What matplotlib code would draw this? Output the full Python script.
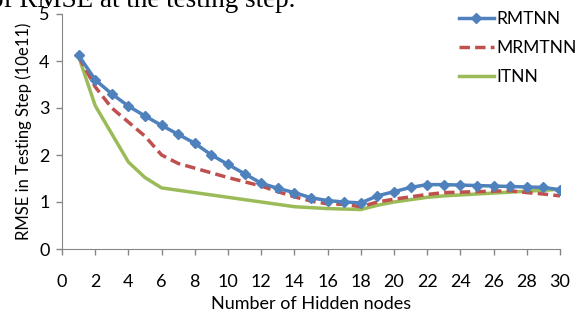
import numpy as np
import matplotlib
matplotlib.use("Agg")
import matplotlib.pyplot as plt

# hidden nodes 1..30
nodes = list(range(1, 31))
rmtnn = [4.12, 3.6, 3.3, 3.04, 2.83, 2.63, 2.44, 2.25, 2.0, 1.8,
         1.6, 1.4, 1.29, 1.2, 1.09, 1.03, 1.0, 0.98, 1.13, 1.22,
         1.31, 1.37, 1.37, 1.36, 1.35, 1.34, 1.33, 1.32, 1.31, 1.26]
mrmtnn = [4.1, 3.45, 3.0, 2.7, 2.4, 2.0, 1.82, 1.72, 1.62, 1.52,
          1.43, 1.34, 1.22, 1.11, 1.02, 0.96, 0.95, 0.9, 1.0, 1.06,
          1.11, 1.16, 1.2, 1.21, 1.22, 1.23, 1.24, 1.2, 1.17, 1.13]
itnn = [4.1, 3.05, 2.45, 1.85, 1.52, 1.3, 1.25, 1.2, 1.15, 1.1,
        1.05, 1.0, 0.95, 0.9, 0.88, 0.86, 0.85, 0.84, 0.93, 1.0,
        1.05, 1.1, 1.13, 1.15, 1.17, 1.19, 1.21, 1.23, 1.25, 1.27]
xticks = list(range(0, 31, 2))
yticks = [0, 1, 2, 3, 4, 5]

plt.rcParams["font.family"] = ["Lato", "DejaVu Sans"]

W, H = 576, 312
fig = plt.figure(figsize=(W / 100, H / 100), dpi=100)
ax = fig.add_axes([62 / W, 1 - 249 / H, (560 - 62) / W, (249 - 14) / H])

ax.plot(nodes, rmtnn, color="#4F81BD", lw=2.5, marker="D", ms=5,
        label="RMTNN", zorder=3)
ax.plot(nodes, mrmtnn, color="#C0504D", lw=2.5, ls=(0, (3, 1.5)),
        label="MRMTNN", zorder=2)
ax.plot(nodes, itnn, color="#9BBB59", lw=2.5, label="ITNN", zorder=1)

ax.set_xlim(0, 30)
ax.set_ylim(0, 5)
ax.set_xticks(xticks)
ax.set_yticks(yticks)
ax.tick_params(labelsize=13, colors="#868686", labelcolor="black",
               length=4, width=1)
ax.tick_params(axis="x", pad=14)
ax.tick_params(axis="y", pad=5)
for s in ["top", "right"]:
    ax.spines[s].set_visible(False)
for s in ["left", "bottom"]:
    ax.spines[s].set_color("#868686")
ax.set_xlabel("Number of Hidden nodes", fontsize=13, labelpad=4)
ax.set_ylabel("RMSE in Testing Step (10e11)", fontsize=12, labelpad=5)

ax.legend(loc="upper left", bbox_to_anchor=(452 / W, 1 - 4 / H),
          bbox_transform=fig.transFigure, frameon=False,
          fontsize=12.5, handlelength=2.0, handletextpad=0.15,
          labelspacing=0.75, borderaxespad=0)

fig.text(-10 / W, 1 - 7 / H, "of RMSE at the testing step.",
         family=["Liberation Serif"], fontsize=19.5, va="baseline")

fig.savefig("out.png", dpi=100)
